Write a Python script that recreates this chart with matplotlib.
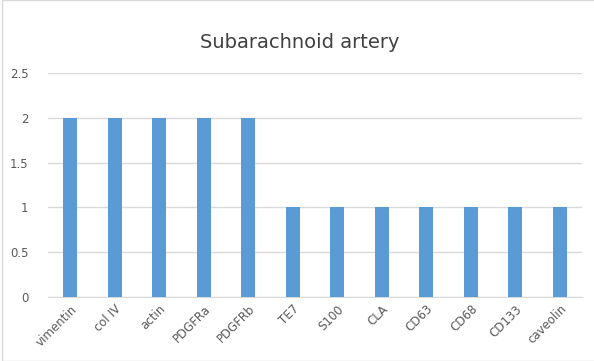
import matplotlib.pyplot as plt
from matplotlib.patches import Rectangle

markers = ["vimentin", "col IV", "actin", "PDGFRa", "PDGFRb", "TE7", "S100",
           "CLA", "CD63", "CD68", "CD133", "caveolin"]
scores = [2, 2, 2, 2, 2, 1, 1, 1, 1, 1, 1, 1]
yticks = [0, 0.5, 1, 1.5, 2, 2.5]

W, H = 594, 361
fig = plt.figure(figsize=(W / 100, H / 100), dpi=100)
ax = fig.add_axes([48 / W, (H - 297) / H, (582 - 48) / W, (297 - 73) / H])

x = range(len(markers))
ax.bar(x, scores, width=0.32, color="#5B9BD5", zorder=3)

ax.set_xlim(-0.5, len(markers) - 0.5)
ax.set_ylim(0, 2.5)
ax.set_yticks(yticks)
ax.set_yticklabels([f"{v:g}" for v in yticks])
ax.set_xticks(list(x))
ax.set_xticklabels(markers, rotation=45, ha="right", rotation_mode="anchor")

ax.grid(axis="y", color="#d9d9d9", linewidth=1, zorder=0)
for s in ["top", "right", "left"]:
    ax.spines[s].set_visible(False)
ax.spines["bottom"].set_color("#d9d9d9")
ax.tick_params(axis="both", length=0, colors="#595959", labelsize=8.5)
ax.tick_params(axis="y", pad=14)
ax.tick_params(axis="x", pad=4)

fig.text(300 / W, 1 - 42 / H, "Subarachnoid artery", ha="center", va="center",
         fontsize=14, color="#404040")
fig.patches.append(Rectangle((2 / W, 0), 1, 1, transform=fig.transFigure,
                             fill=False, edgecolor="#d9d9d9", linewidth=1))

fig.savefig("out.png", dpi=100)
